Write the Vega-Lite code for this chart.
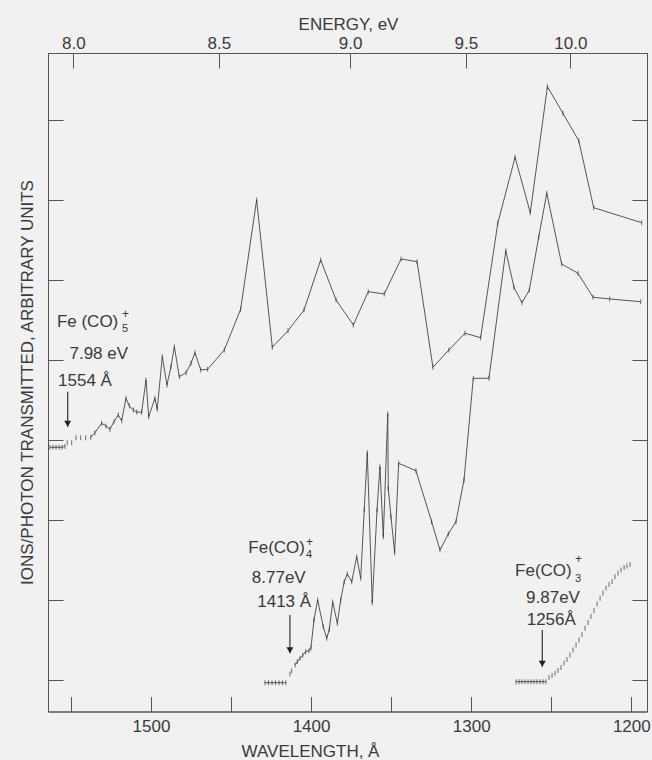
{
  "$schema": "https://vega.github.io/schema/vega-lite/v6.json",
  "width": 599,
  "height": 658.5,
  "autosize": {"type": "none"},
  "padding": {"left": 48, "top": 53, "right": 5, "bottom": 48.5},
  "background": "#f1f1f1",
  "config": {
    "view": {"stroke": "#555", "strokeWidth": 1},
    "font": "Liberation Sans",
    "axis": {
      "grid": false, "domainColor": "#555", "tickColor": "#555", "tickWidth": 1,
      "labelColor": "#3a3a3a", "titleColor": "#3a3a3a",
      "labelFont": "Liberation Sans", "titleFont": "Liberation Sans",
      "labelFontSize": 17, "titleFontSize": 17, "titleFontWeight": "normal",
      "tickSize": -15, "labelOverlap": false, "labelFlush": false
    }
  },
  "datasets": {
    "pts": [
      {"s":"5","p":"base","w":1563.1,"v":29.09},{"s":"5","p":"base","w":1561.2,"v":29.09},{"s":"5","p":"base","w":1559.3,"v":29.09},{"s":"5","p":"base","w":1557.4,"v":29.09},{"s":"5","p":"base","w":1555.6,"v":29.09},{"s":"5","p":"base","w":1553.7,"v":29.2},
      {"s":"5","p":"rise","w":1552.3,"v":29.66},{"s":"5","p":"rise","w":1549.5,"v":29.66},{"s":"5","p":"rise","w":1546.8,"v":30.29},{"s":"5","p":"rise","w":1543.9,"v":30.29},{"s":"5","p":"rise","w":1540.8,"v":30.29},
      {"s":"5","p":"main","w":1537.6,"v":30.34},{"s":"5","p":"main","w":1535.0,"v":30.91},{"s":"5","p":"main","w":1530.8,"v":32.09},{"s":"5","p":"main","w":1528.1,"v":31.75},{"s":"5","p":"main","w":1525.6,"v":31.34},{"s":"5","p":"main","w":1523.1,"v":32.29},{"s":"5","p":"main","w":1520.4,"v":33.13},{"s":"5","p":"main","w":1518.3,"v":32.41},{"s":"5","p":"main","w":1515.6,"v":35.21},{"s":"5","p":"main","w":1513.5,"v":34.25},{"s":"5","p":"main","w":1511.0,"v":33.75},{"s":"5","p":"main","w":1508.9,"v":33.5},{"s":"5","p":"main","w":1505.8,"v":33.46},{"s":"5","p":"main","w":1503.1,"v":37.5},{"s":"5","p":"main","w":1501.4,"v":32.91},{"s":"5","p":"main","w":1497.5,"v":35.21},{"s":"5","p":"main","w":1496.1,"v":33.84},{"s":"5","p":"main","w":1492.9,"v":40.41},{"s":"5","p":"main","w":1490.0,"v":36.88},{"s":"5","p":"main","w":1487.5,"v":39.16},{"s":"5","p":"main","w":1485.4,"v":41.66},{"s":"5","p":"main","w":1482.3,"v":37.91},{"s":"5","p":"main","w":1478.1,"v":38.41},{"s":"5","p":"main","w":1475.0,"v":39.59},{"s":"5","p":"main","w":1472.5,"v":40.91},{"s":"5","p":"main","w":1468.9,"v":38.75},{"s":"5","p":"main","w":1464.6,"v":38.84},{"s":"5","p":"main","w":1454.2,"v":41.25},{"s":"5","p":"main","w":1444.0,"v":46.34},{"s":"5","p":"main","w":1434.0,"v":60.0},{"s":"5","p":"main","w":1424.2,"v":41.59},{"s":"5","p":"main","w":1414.4,"v":43.66},{"s":"5","p":"main","w":1404.4,"v":46.25},{"s":"5","p":"main","w":1394.0,"v":52.5},{"s":"5","p":"main","w":1384.4,"v":47.5},{"s":"5","p":"main","w":1373.6,"v":44.38},{"s":"5","p":"main","w":1364.3,"v":48.54},{"s":"5","p":"main","w":1354.3,"v":48.25},{"s":"5","p":"main","w":1343.8,"v":52.63},{"s":"5","p":"main","w":1333.8,"v":52.29},{"s":"5","p":"main","w":1323.9,"v":39.09},{"s":"5","p":"main","w":1313.9,"v":41.25},{"s":"5","p":"main","w":1303.9,"v":43.34},{"s":"5","p":"main","w":1294.1,"v":42.79},{"s":"5","p":"main","w":1283.4,"v":57.09},{"s":"5","p":"main","w":1272.6,"v":65.34},{"s":"5","p":"main","w":1263.1,"v":58.41},{"s":"5","p":"main","w":1252.4,"v":74.16},{"s":"5","p":"main","w":1242.7,"v":70.84},{"s":"5","p":"main","w":1232.8,"v":67.41},{"s":"5","p":"main","w":1223.5,"v":59.04},{"s":"5","p":"main","w":1193.5,"v":57.16},
      {"s":"4","p":"base","w":1428.8,"v":-0.34},{"s":"4","p":"base","w":1426.6,"v":-0.34},{"s":"4","p":"base","w":1424.4,"v":-0.34},{"s":"4","p":"base","w":1422.2,"v":-0.34},{"s":"4","p":"base","w":1420.0,"v":-0.34},{"s":"4","p":"base","w":1417.9,"v":-0.34},{"s":"4","p":"base","w":1415.7,"v":-0.34},
      {"s":"4","p":"rise","w":1413.2,"v":0.75},{"s":"4","p":"rise","w":1412.1,"v":1.16},
      {"s":"4","p":"main","w":1410.0,"v":1.88},{"s":"4","p":"main","w":1408.6,"v":2.29},{"s":"4","p":"main","w":1406.9,"v":2.71},{"s":"4","p":"main","w":1405.2,"v":3.09},{"s":"4","p":"main","w":1403.4,"v":3.54},{"s":"4","p":"main","w":1401.3,"v":3.66},{"s":"4","p":"main","w":1400.1,"v":3.96},{"s":"4","p":"main","w":1398.2,"v":7.5},{"s":"4","p":"main","w":1395.9,"v":10.0},{"s":"4","p":"main","w":1392.4,"v":6.66},{"s":"4","p":"main","w":1390.2,"v":5.21},{"s":"4","p":"main","w":1388.6,"v":6.34},{"s":"4","p":"main","w":1386.5,"v":9.75},{"s":"4","p":"main","w":1383.6,"v":7.09},{"s":"4","p":"main","w":1381.5,"v":10.0},{"s":"4","p":"main","w":1379.3,"v":12.29},{"s":"4","p":"main","w":1377.4,"v":13.25},{"s":"4","p":"main","w":1374.6,"v":12.29},{"s":"4","p":"main","w":1371.5,"v":15.41},{"s":"4","p":"main","w":1369.0,"v":12.71},{"s":"4","p":"main","w":1366.8,"v":21.25},{"s":"4","p":"main","w":1364.9,"v":28.41},{"s":"4","p":"main","w":1361.8,"v":9.66},{"s":"4","p":"main","w":1358.8,"v":21.25},{"s":"4","p":"main","w":1357.0,"v":26.66},{"s":"4","p":"main","w":1354.9,"v":17.91},{"s":"4","p":"main","w":1352.1,"v":33.25},{"s":"4","p":"main","w":1351.8,"v":23.96},{"s":"4","p":"main","w":1350.1,"v":20.41},{"s":"4","p":"main","w":1347.8,"v":15.91},{"s":"4","p":"main","w":1345.3,"v":27.09},{"s":"4","p":"main","w":1334.5,"v":26.16},{"s":"4","p":"main","w":1324.7,"v":19.79},{"s":"4","p":"main","w":1319.5,"v":16.25},{"s":"4","p":"main","w":1314.3,"v":18.25},{"s":"4","p":"main","w":1309.5,"v":19.79},{"s":"4","p":"main","w":1304.5,"v":25.0},{"s":"4","p":"main","w":1298.7,"v":37.71},{"s":"4","p":"main","w":1288.9,"v":37.71},{"s":"4","p":"main","w":1278.4,"v":53.66},{"s":"4","p":"main","w":1273.3,"v":49.09},{"s":"4","p":"main","w":1268.3,"v":47.16},{"s":"4","p":"main","w":1263.7,"v":48.75},{"s":"4","p":"main","w":1257.8,"v":55.41},{"s":"4","p":"main","w":1252.8,"v":60.84},{"s":"4","p":"main","w":1243.5,"v":52.0},{"s":"4","p":"main","w":1233.3,"v":50.84},{"s":"4","p":"main","w":1223.9,"v":47.84},{"s":"4","p":"main","w":1213.5,"v":47.63},{"s":"4","p":"main","w":1194.1,"v":47.29},
      {"s":"3","p":"base","w":1272.0,"v":-0.21},{"s":"3","p":"base","w":1270.1,"v":-0.21},{"s":"3","p":"base","w":1268.3,"v":-0.21},{"s":"3","p":"base","w":1266.4,"v":-0.21},{"s":"3","p":"base","w":1264.5,"v":-0.21},{"s":"3","p":"base","w":1262.6,"v":-0.21},{"s":"3","p":"base","w":1260.8,"v":-0.21},{"s":"3","p":"base","w":1258.9,"v":-0.21},{"s":"3","p":"base","w":1257.0,"v":-0.21},{"s":"3","p":"base","w":1255.1,"v":-0.21},{"s":"3","p":"base","w":1253.3,"v":-0.21},
      {"s":"3","p":"rise","w":1251.4,"v":0.31},{"s":"3","p":"rise","w":1249.5,"v":0.56},{"s":"3","p":"rise","w":1247.6,"v":0.84},{"s":"3","p":"rise","w":1245.8,"v":1.19},{"s":"3","p":"rise","w":1243.9,"v":1.56},{"s":"3","p":"rise","w":1242.0,"v":2.12},{"s":"3","p":"rise","w":1240.2,"v":2.56},{"s":"3","p":"rise","w":1238.3,"v":3.12},{"s":"3","p":"rise","w":1236.4,"v":3.75},{"s":"3","p":"rise","w":1234.5,"v":4.37},{"s":"3","p":"rise","w":1232.7,"v":5.0},{"s":"3","p":"rise","w":1230.8,"v":5.69},{"s":"3","p":"rise","w":1228.9,"v":6.46},{"s":"3","p":"rise","w":1227.0,"v":7.19},{"s":"3","p":"rise","w":1225.2,"v":7.94},{"s":"3","p":"rise","w":1223.3,"v":8.69},{"s":"3","p":"rise","w":1221.4,"v":9.5},{"s":"3","p":"rise","w":1219.5,"v":10.21},{"s":"3","p":"rise","w":1217.7,"v":10.87},{"s":"3","p":"rise","w":1215.8,"v":11.5},{"s":"3","p":"rise","w":1213.9,"v":11.94},{"s":"3","p":"rise","w":1212.0,"v":12.31},{"s":"3","p":"rise","w":1210.2,"v":12.91},{"s":"3","p":"rise","w":1208.3,"v":13.37},{"s":"3","p":"rise","w":1206.4,"v":13.75},{"s":"3","p":"rise","w":1204.5,"v":14.06},{"s":"3","p":"rise","w":1202.7,"v":14.25},{"s":"3","p":"rise","w":1200.8,"v":14.44}
    ],
    "arrows": [
      {"w":1552.0,"v1":36.04,"v2":31.66},
      {"w":1413.2,"v1":8.12,"v2":3.34},
      {"w":1255.6,"v1":6.25,"v2":1.66}
    ],
    "labels": [
      {"k":"main","t":"7.98 eV","w":1532.6,"v":40.09},
      {"k":"main","t":"1554 Å","w":1541.2,"v":36.75},
      {"k":"main","t":"8.77eV","w":1420.2,"v":12.09},
      {"k":"main","t":"1413 Å","w":1416.8,"v":9.16},
      {"k":"main","t":"9.87eV","w":1248.9,"v":9.66},
      {"k":"main","t":"1256Å","w":1250.0,"v":6.88},
      {"k":"ion","t":"Fe (CO)","w":1520.4,"v":44.16},
      {"k":"ion","t":"Fe(CO)","w":1403.8,"v":15.84},
      {"k":"ion","t":"Fe(CO)","w":1237.2,"v":13.0},
      {"k":"sub","t":"5","w":1518.1,"v":43.46},
      {"k":"sub","t":"4","w":1403.2,"v":15.21},
      {"k":"sub","t":"3","w":1235.2,"v":12.21},
      {"k":"sup","t":"+","w":1518.1,"v":45.71},
      {"k":"sup","t":"+","w":1403.2,"v":17.29},
      {"k":"sup","t":"+","w":1235.2,"v":15.09}
    ]
  },
  "layer": [
    {
      "data": {"name": "pts"},
      "transform": [{"filter": "datum.p != 'rise'"}],
      "mark": {"type": "line", "stroke": "#444", "strokeWidth": 0.9},
      "encoding": {
        "x": {"field": "w", "type": "quantitative",
              "scale": {"domain": [1190.2, 1564.3], "reverse": true, "nice": false, "zero": false},
              "axis": {"orient": "bottom", "values": [1550,1500,1450,1400,1350,1300,1250,1200],
                       "labelExpr": "datum.value % 100 == 0 ? format(datum.value, 'd') : ''",
                       "labelPadding": 22, "title": "WAVELENGTH, Å",
                       "titleX": 262, "titleY": 44.5, "titleBaseline": "alphabetic", "titleAlign": "center"}},
        "y": {"field": "v", "type": "quantitative",
              "scale": {"domain": [-3.94, 78.375], "nice": false, "zero": false},
              "axis": {"orient": "left", "values": [0,10,20,30,40,50,60,70], "labels": false,
                       "title": "IONS/PHOTON TRANSMITTED, ARBITRARY UNITS",
                       "titleX": -16, "titleY": 329, "titleAngle": -90,
                       "titleBaseline": "alphabetic", "titleAlign": "center"}},
        "detail": [{"field": "s"}, {"field": "p"}]
      }
    },
    {
      "data": {"name": "pts"},
      "mark": {"type": "tick", "orient": "vertical", "size": 5, "thickness": 1, "color": "#333"},
      "encoding": {
        "x": {"field": "w", "type": "quantitative",
              "scale": {"domain": [1190.2, 1564.3], "reverse": true, "nice": false, "zero": false},
              "axis": {"orient": "top", "values": [1548.5, 1457.6, 1375.6, 1303.3, 1238.1],
                       "labelExpr": "format(12382 / datum.value, '.1f')",
                       "labelPadding": 16, "title": "ENERGY, eV",
                       "titleX": 300, "titleY": -23.5, "titleBaseline": "alphabetic", "titleAlign": "center"}},
        "y": {"field": "v", "type": "quantitative",
              "scale": {"domain": [-3.94, 78.375], "nice": false, "zero": false},
              "axis": {"orient": "right", "values": [0,10,20,30,40,50,60,70], "labels": false, "title": null}}
      }
    },
    {
      "data": {"name": "arrows"},
      "mark": {"type": "rule", "stroke": "#333", "strokeWidth": 1.2},
      "encoding": {
        "x": {"field": "w", "type": "quantitative", "axis": null},
        "y": {"field": "v1", "type": "quantitative", "axis": null},
        "y2": {"field": "v2"}
      }
    },
    {
      "data": {"name": "arrows"},
      "mark": {"type": "point", "shape": "triangle-down", "filled": true, "size": 49, "color": "#222", "opacity": 1, "yOffset": -3},
      "encoding": {
        "x": {"field": "w", "type": "quantitative", "axis": null},
        "y": {"field": "v2", "type": "quantitative", "axis": null}
      }
    },
    {
      "data": {"name": "labels"},
      "transform": [{"filter": "datum.k == 'main'"}],
      "mark": {"type": "text", "align": "center", "baseline": "alphabetic", "fontSize": 17, "color": "#3a3a3a"},
      "encoding": {
        "x": {"field": "w", "type": "quantitative", "axis": null},
        "y": {"field": "v", "type": "quantitative", "axis": null},
        "text": {"field": "t"}
      }
    },
    {
      "data": {"name": "labels"},
      "transform": [{"filter": "datum.k == 'ion'"}],
      "mark": {"type": "text", "align": "right", "baseline": "alphabetic", "fontSize": 17, "color": "#3a3a3a"},
      "encoding": {
        "x": {"field": "w", "type": "quantitative", "axis": null},
        "y": {"field": "v", "type": "quantitative", "axis": null},
        "text": {"field": "t"}
      }
    },
    {
      "data": {"name": "labels"},
      "transform": [{"filter": "datum.k == 'sub'"}],
      "mark": {"type": "text", "align": "left", "baseline": "alphabetic", "fontSize": 11, "color": "#3a3a3a"},
      "encoding": {
        "x": {"field": "w", "type": "quantitative", "axis": null},
        "y": {"field": "v", "type": "quantitative", "axis": null},
        "text": {"field": "t"}
      }
    },
    {
      "data": {"name": "labels"},
      "transform": [{"filter": "datum.k == 'sup'"}],
      "mark": {"type": "text", "align": "left", "baseline": "middle", "fontSize": 12, "color": "#3a3a3a"},
      "encoding": {
        "x": {"field": "w", "type": "quantitative", "axis": null},
        "y": {"field": "v", "type": "quantitative", "axis": null},
        "text": {"field": "t"}
      }
    }
  ],
  "resolve": {"axis": {"x": "independent", "y": "independent"}}
}
